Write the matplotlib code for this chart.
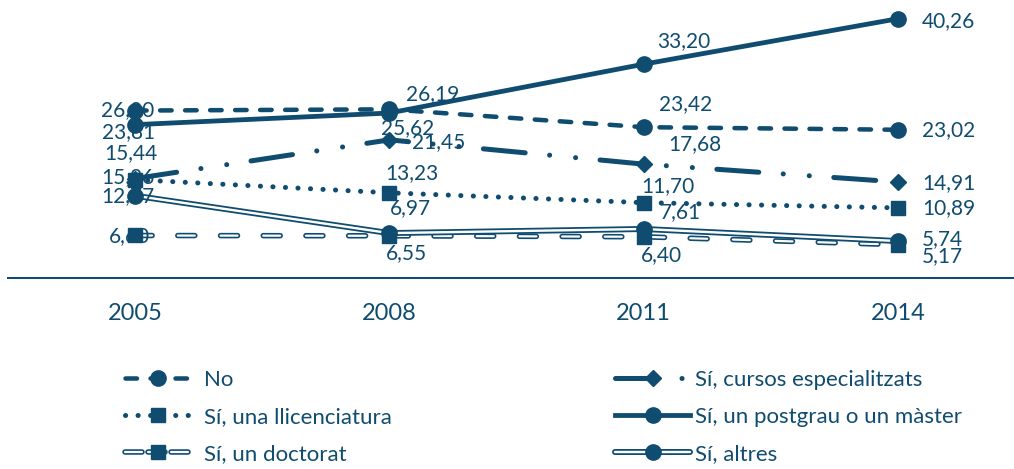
import matplotlib
matplotlib.use('Agg')
import matplotlib.pyplot as plt
from matplotlib.lines import Line2D
from matplotlib.legend_handler import HandlerTuple

plt.rcParams['font.family'] = ['Lato', 'DejaVu Sans']
plt.rcParams['lines.scale_dashes'] = False

# dades
years = ['2005', '2008', '2011', '2014']
no_vals = [26.00, 26.19, 23.42, 23.02]
cursos_vals = [15.44, 21.45, 17.68, 14.91]
llic_vals = [15.26, 13.23, 11.70, 10.89]
postgrau_vals = [23.81, 25.62, 33.20, 40.26]
doctorat_vals = [6.60, 6.55, 6.40, 5.17]
altres_vals = [12.77, 6.97, 7.61, 5.74]

C = '#0F4C6F'
PX = 0.72  # punts per pixel (dpi 100)

fig = plt.figure(figsize=(10.14, 4.69), dpi=100)
ax = fig.add_axes([8 / 1014, 191 / 469, 1017 / 1014, 43 * 6.44 / 469])
x = list(range(len(years)))

# No
no_dash = (11.5 * PX, 13.5 * PX)
ax.plot(x, no_vals, color=C, lw=4.5 * PX, dashes=no_dash,
        dash_capstyle='round', marker='o', ms=11, clip_on=False, zorder=3)
# cursos especialitzats
cur_dash = tuple(v * PX for v in (42, 24.5, 0.1, 26, 0.1, 24.5))
ax.plot(x, cursos_vals, color=C, lw=5 * PX, dashes=cur_dash,
        dash_capstyle='round', marker='D', ms=7.8, clip_on=False, zorder=3)
# llicenciatura
llic_dash = (0.1, 12.4 * PX)
ax.plot(x, llic_vals, color=C, lw=5 * PX, dashes=llic_dash,
        dash_capstyle='round', marker='s', ms=10.5, clip_on=False, zorder=3)
# postgrau
ax.plot(x, postgrau_vals, color=C, lw=4.8 * PX, marker='o', ms=11,
        clip_on=False, zorder=4)
# doctorat (linia doble discontinua)
doc_dash = (17 * PX, 25.7 * PX)
ax.plot(x, doctorat_vals, color=C, lw=5.5 * PX, dashes=doc_dash,
        dash_capstyle='round', clip_on=False, zorder=2)
ax.plot(x, doctorat_vals, color='white', lw=2.2 * PX, dashes=doc_dash,
        dash_capstyle='round', clip_on=False, zorder=2)
ax.plot(x, doctorat_vals, color=C, ls='none', marker='s', ms=10.5,
        clip_on=False, zorder=3)
# altres (linia doble)
ax.plot(x, altres_vals, color=C, lw=6 * PX, clip_on=False, zorder=2)
ax.plot(x, altres_vals, color='white', lw=2.4 * PX, clip_on=False, zorder=2)
ax.plot(x, altres_vals, color=C, ls='none', marker='o', ms=11,
        clip_on=False, zorder=3)

# etiquetes: desplacament en pixels (dx, dy cap avall)
series = [no_vals, postgrau_vals, cursos_vals, llic_vals, altres_vals, doctorat_vals]
offsets = [
    [(-7, 0), (43, -15), (42, -23), (24, 0)],
    [(-7, 7), (18, 15), (40, -23), (24, 2)],
    [(-4, -25), (49, 2), (51, -20), (24, 1)],
    [(-7, -3), (23, -20), (24, -17), (24, 0)],
    [(-7, 0), (21, -25), (37, -17), (24, -2)],
    [(-6, 1), (17, 17), (18, 18), (24, 11)],
]
for vals, offs in zip(series, offsets):
    for i, (v, (dx, dy)) in enumerate(zip(vals, offs)):
        ha = 'left' if i == len(vals) - 1 else 'center'
        ax.annotate(f'{v:.2f}'.replace('.', ','), (i, v),
                    xytext=(dx * PX, -dy * PX), textcoords='offset points',
                    ha=ha, va='center', fontsize=15, color=C, zorder=5)

ax.set_xlim(-0.5, 3.5)
ax.set_ylim(0, 43)
ax.set_xticks(x)
ax.set_xticklabels(years)
ax.tick_params(axis='x', length=0, pad=18, labelsize=17, labelcolor=C)
ax.set_yticks([])
for s in ['top', 'left', 'right']:
    ax.spines[s].set_visible(False)
ax.spines['bottom'].set_color(C)
ax.spines['bottom'].set_linewidth(2 * PX)
ax.patch.set_alpha(0)

# llegenda
h_no = Line2D([], [], color=C, lw=4.5 * PX, dashes=no_dash,
              dash_capstyle='round', marker='o', ms=11)
h_llic = Line2D([], [], color=C, lw=5 * PX, dashes=llic_dash,
                dash_capstyle='round', marker='s', ms=10.5)
h_doc = (Line2D([], [], color=C, lw=5.5 * PX, dashes=(17 * PX, 6 * PX), dash_capstyle='round'),
         Line2D([], [], color='white', lw=2.2 * PX, dashes=(17 * PX, 6 * PX), dash_capstyle='round'),
         Line2D([], [], color=C, ls='none', marker='s', ms=10.5))
h_cur = Line2D([], [], color=C, lw=5 * PX, dashes=cur_dash,
               dash_capstyle='round', marker='D', ms=7.8)
h_post = Line2D([], [], color=C, lw=4.8 * PX, marker='o', ms=11)
h_alt = (Line2D([], [], color=C, lw=6 * PX, solid_capstyle='round'),
         Line2D([], [], color='white', lw=2.4 * PX, solid_capstyle='round'),
         Line2D([], [], color=C, ls='none', marker='o', ms=11))

leg_kw = dict(loc='center left', frameon=False, fontsize=16, labelcolor=C,
              borderpad=0, borderaxespad=0, labelspacing=0.76, numpoints=1,
              handler_map={tuple: HandlerTuple(ndivide=1, pad=0)})
leg1 = fig.legend([h_no, h_llic, h_doc],
                  ['No', 'Sí, una llicenciatura', 'Sí, un doctorat'],
                  bbox_to_anchor=(125 / 1014, 52 / 469),
                  handlelength=2.93, handletextpad=0.62, **leg_kw)
leg2 = fig.legend([h_cur, h_post, h_alt],
                  ['Sí, cursos especialitzats', 'Sí, un postgrau o un màster', 'Sí, altres'],
                  bbox_to_anchor=(615 / 1014, 52 / 469),
                  handlelength=3.38, handletextpad=0.23, **leg_kw)

fig.savefig('out.png', dpi=100)
